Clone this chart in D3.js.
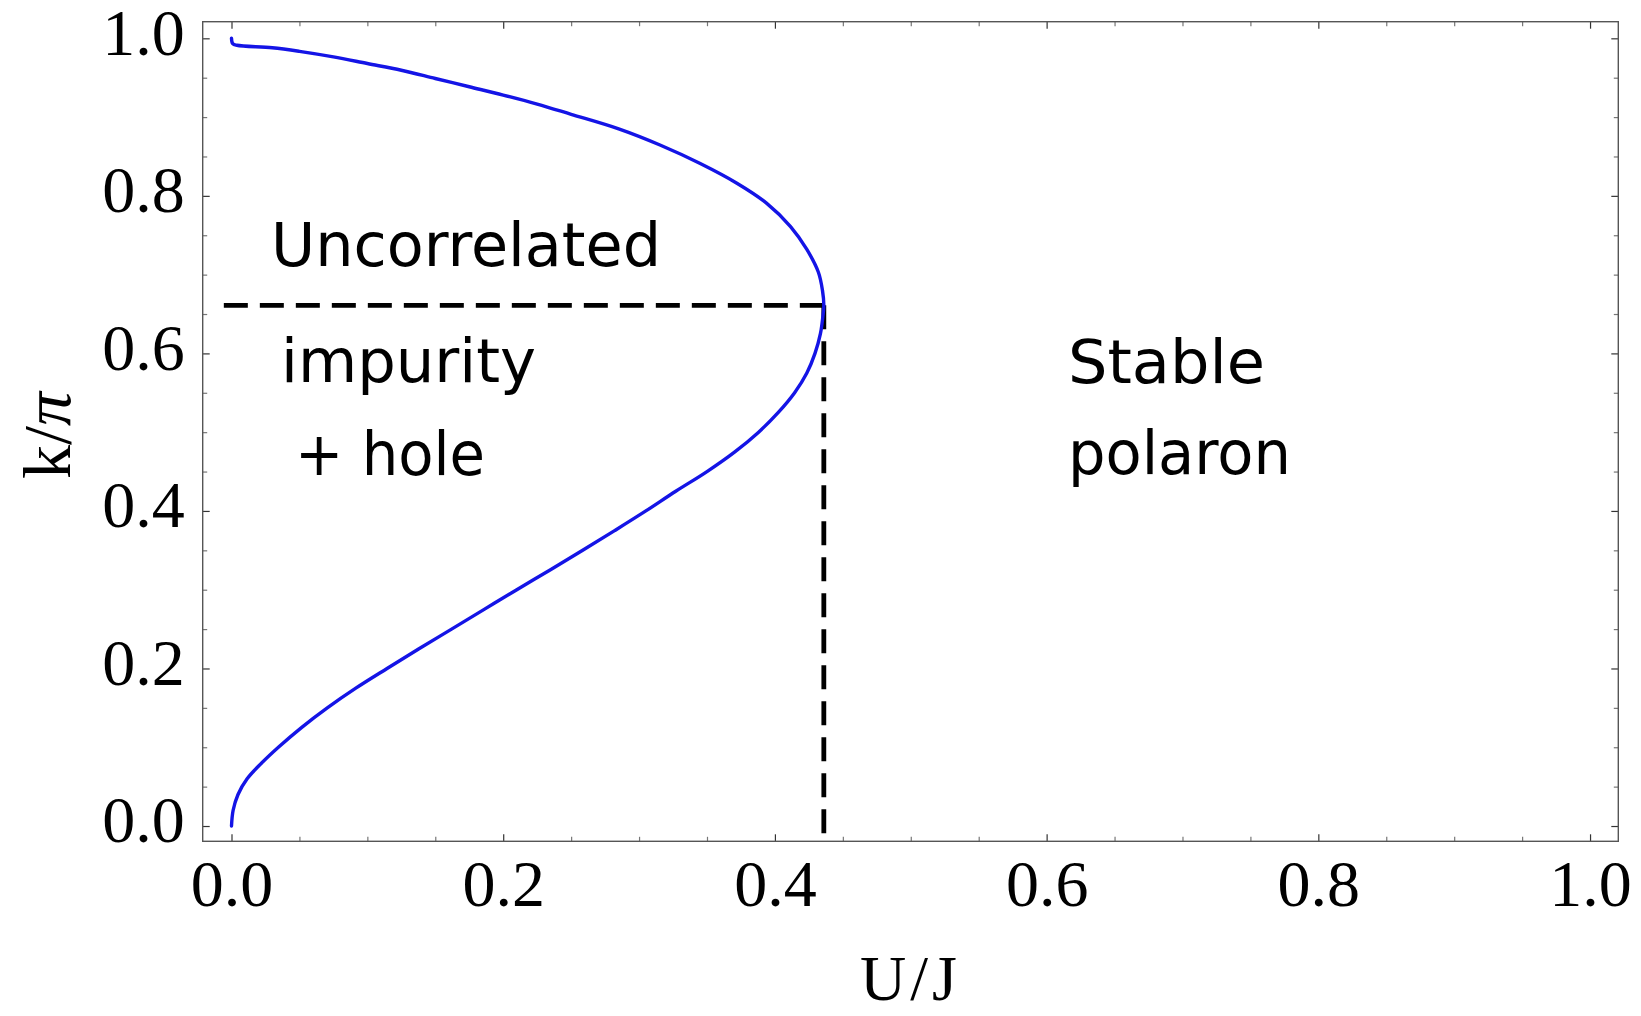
<!DOCTYPE html>
<html>
<head>
<meta charset="utf-8">
<script src="https://cdn.jsdelivr.net/npm/d3@7"></script>
<style>
  html, body { margin: 0; padding: 0; background: #fff; }
  svg { display: block; }
</style>
</head>
<body>
<svg id="chart" width="1641" height="1016"></svg>
<script>
// Phase boundary k/pi versus U/J, traced from (0,0) round the nose and back to (0,1)
const boundaryU = [0, 0.0012, 0.0048, 0.0115, 0.0222, 0.0345, 0.0515, 0.0705, 0.0915, 0.1145,
  0.138, 0.162, 0.186, 0.210, 0.2345, 0.2585, 0.282, 0.305, 0.327, 0.350,
  0.3705, 0.388, 0.4025, 0.4145, 0.4235, 0.4295, 0.4335, 0.4355, 0.436,
  0.435, 0.432, 0.4235, 0.4115, 0.394, 0.372, 0.345, 0.3154, 0.285, 0.25,
  0.225, 0.2, 0.175, 0.15, 0.125, 0.1, 0.075, 0.05, 0.03, 0.004, 0.0009, 0];
const boundaryK = [0, 0.02, 0.04, 0.06, 0.08, 0.10, 0.125, 0.15, 0.175, 0.20,
  0.225, 0.25, 0.275, 0.30, 0.325, 0.35, 0.375, 0.40, 0.425, 0.45,
  0.475, 0.50, 0.525, 0.55, 0.575, 0.60, 0.625, 0.65, 0.661,
  0.68, 0.703, 0.732, 0.761, 0.7905, 0.816, 0.841, 0.8645, 0.885, 0.9035,
  0.9165, 0.928, 0.9385, 0.949, 0.9595, 0.968, 0.9765, 0.9835, 0.988, 0.9912, 0.9932, 1.0];

// Critical point marked by the dashed guides
const criticalU = 0.436;
const criticalK = 0.661;

// Tick values
const majorTicks = [0, 0.2, 0.4, 0.6, 0.8, 1.0];
const minorTicks = [0.05, 0.1, 0.15, 0.25, 0.3, 0.35, 0.45, 0.5, 0.55, 0.65, 0.7, 0.75, 0.85, 0.9, 0.95];

// Axis titles and region annotations
const xTitle = "U/J";
const yTitleMain = "k/";
const yTitleSymbol = "π";
const leftRegionLines = ["Uncorrelated", "impurity", "+ hole"];
const rightRegionLines = ["Stable", "polaron"];

const svg = d3.select("#chart");
const frame = { left: 202.7, right: 1618.3, top: 21.7, bottom: 841.3 };

const x = d3.scaleLinear().domain([-0.0212, 1.0208]).range([frame.left, frame.right]);
const y = d3.scaleLinear().domain([-0.0194, 1.0211]).range([frame.bottom, frame.top]);

const serif = "'Liberation Serif', 'Times New Roman', serif";
const hand = "'Comic Sans MS', 'DejaVu Sans', sans-serif";

// Tick marks on all four sides, pointing inward
function tickLayer(axisFn, scale, values, size, tx, ty, color, labels) {
  const a = axisFn(scale).tickValues(values).tickSize(-size).tickPadding(18)
    .tickFormat(labels ? d3.format(".1f") : "");
  const g = svg.append("g").attr("transform", `translate(${tx},${ty})`).call(a);
  g.select(".domain").remove();
  g.selectAll(".tick line").attr("stroke", color).attr("stroke-width", 1.2);
  return g;
}

const bottomMajor = tickLayer(d3.axisBottom, x, majorTicks, 7, 0, frame.bottom, "#333", true);
tickLayer(d3.axisBottom, x, minorTicks, 4.5, 0, frame.bottom, "#777", false);
tickLayer(d3.axisTop, x, majorTicks, 7, 0, frame.top, "#333", false);
tickLayer(d3.axisTop, x, minorTicks, 4.5, 0, frame.top, "#777", false);
const leftMajor = tickLayer(d3.axisLeft, y, majorTicks, 7, frame.left, 0, "#333", true);
tickLayer(d3.axisLeft, y, minorTicks, 4.5, frame.left, 0, "#777", false);
tickLayer(d3.axisRight, y, majorTicks, 7, frame.right, 0, "#333", false);
tickLayer(d3.axisRight, y, minorTicks, 4.5, frame.right, 0, "#777", false);

bottomMajor.selectAll(".tick text")
  .attr("font-family", serif).attr("font-size", 66).attr("fill", "#000");
leftMajor.selectAll(".tick text")
  .attr("font-family", serif).attr("font-size", 66).attr("fill", "#000")
  .attr("dy", "0.24em");

// Frame
svg.append("rect")
  .attr("x", frame.left).attr("y", frame.top)
  .attr("width", frame.right - frame.left).attr("height", frame.bottom - frame.top)
  .attr("fill", "none").attr("stroke", "#555").attr("stroke-width", 1.4);

// Dashed guides through the critical point
const guides = svg.append("g").attr("stroke", "#000").attr("stroke-width", 4.8)
  .attr("stroke-dasharray", "24 12").attr("fill", "none");
guides.append("line")
  .attr("x1", x(criticalU)).attr("y1", y(criticalK))
  .attr("x2", x(-0.0085)).attr("y2", y(criticalK));
guides.append("line")
  .attr("x1", x(criticalU)).attr("y1", y(criticalK))
  .attr("x2", x(criticalU)).attr("y2", frame.bottom);

// Boundary curve
const pts = boundaryU.map((u, i) => [u, boundaryK[i]]);
const line = d3.line().x(d => x(d[0])).y(d => y(d[1])).curve(d3.curveCatmullRom.alpha(0.5));
svg.append("path").datum(pts)
  .attr("d", line)
  .attr("fill", "none").attr("stroke", "#1414e6").attr("stroke-width", 3.4)
  .attr("stroke-linejoin", "round").attr("stroke-linecap", "round");

// Axis titles
svg.append("text")
  .attr("x", (frame.left + frame.right) / 2).attr("y", 1000)
  .attr("text-anchor", "middle").attr("font-family", serif).attr("font-size", 64)
  .attr("letter-spacing", 4)
  .text(xTitle);

const yt = svg.append("text")
  .attr("transform", `translate(70,${(frame.top + frame.bottom) / 2 + 4}) rotate(-90)`)
  .attr("text-anchor", "middle").attr("font-family", serif).attr("font-size", 68);
yt.append("tspan").text(yTitleMain);
yt.append("tspan").attr("font-style", "italic").text(yTitleSymbol);

// Region annotations
const leftPos = [[271, 266, 390], [281, 382, 255], [295, 475, 190]];
leftRegionLines.forEach((t, i) => {
  svg.append("text")
    .attr("x", leftPos[i][0]).attr("y", leftPos[i][1])
    .attr("font-family", hand).attr("font-size", 60)
    .attr("textLength", leftPos[i][2]).attr("lengthAdjust", "spacingAndGlyphs")
    .text(t);
});
const rightPos = [[1068, 383, 197], [1068, 474, 223]];
rightRegionLines.forEach((t, i) => {
  svg.append("text")
    .attr("x", rightPos[i][0]).attr("y", rightPos[i][1])
    .attr("font-family", hand).attr("font-size", 60)
    .attr("textLength", rightPos[i][2]).attr("lengthAdjust", "spacingAndGlyphs")
    .text(t);
});
</script>
</body>
</html>
